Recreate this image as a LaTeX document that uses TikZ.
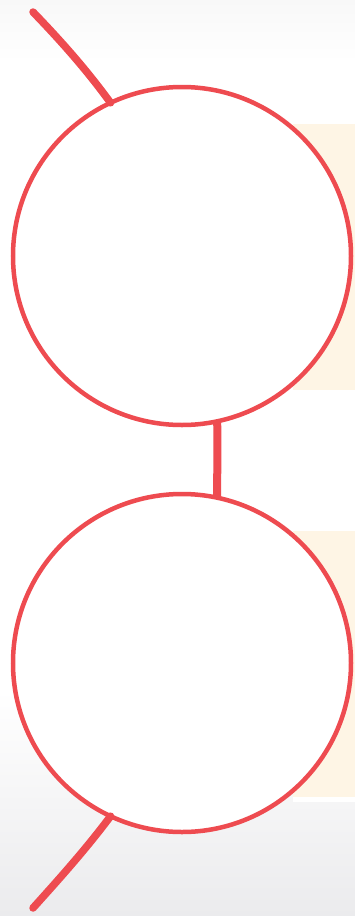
\documentclass[tikz,border=0pt]{standalone}
\usetikzlibrary{shadings}
\definecolor{redline}{HTML}{EE4B50}
\definecolor{cream}{HTML}{FEF5E5}
\definecolor{topgray}{HTML}{F8F8F8}
\definecolor{botgray}{HTML}{EBEBED}
\begin{document}
\begin{tikzpicture}[x=1pt,y=-1pt,
  ring/.style={circle,draw=redline,fill=white,line width=4.5pt,minimum size=338pt,inner sep=0pt,outer sep=0pt},
  stem/.style={draw=redline,line width=7.5pt,line cap=round},
  link/.style={draw=redline,line width=8pt}]
\useasboundingbox (0,0) rectangle (355,916);
% backgrounds
\shade[top color=topgray,bottom color=white] (0,0) rectangle (355,62);
\fill[white] (0,62) rectangle (355,690);
\shade[top color=white,bottom color=botgray] (0,690) rectangle (355,916);
\fill[cream] (293,124) rectangle (355,390);
\fill[cream] (293,531) rectangle (355,797);
\fill[white] (293,797) rectangle (355,802);
% rings
\node[ring] (c1) at (182,256) {};
\node[ring] (c2) at (182,663) {};
% connectors
\coordinate (topend) at (33,12);
\coordinate (botend) at (33,908);
\draw[stem] (topend) .. controls (60,40) and (86,69) .. (c1.115.5);
\draw[stem] (botend) .. controls (60,878) and (86,849) .. (c2.-115.5);
\draw[link] (c1.-78.5) .. controls (218,450) and (217,470) .. (c2.78.8);
\end{tikzpicture}
\end{document}
